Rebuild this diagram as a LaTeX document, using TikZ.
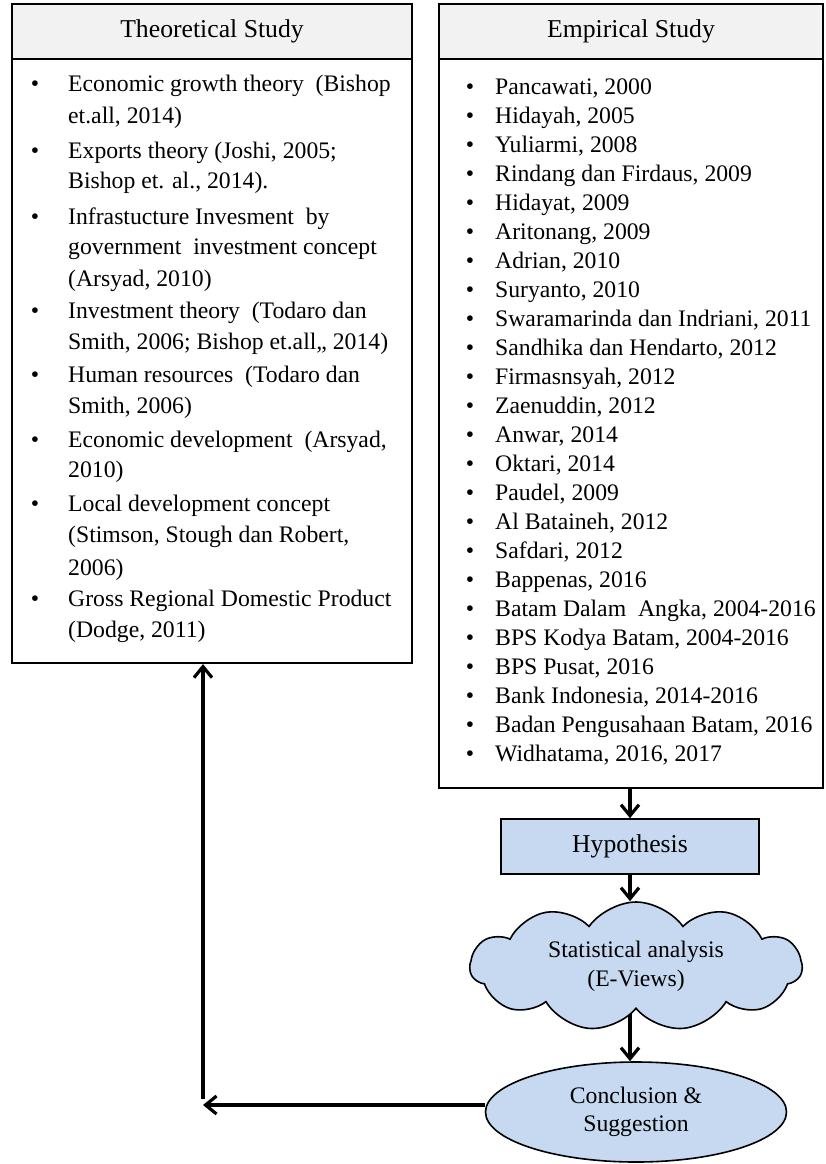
\documentclass[tikz,border=0pt]{standalone}
\usepackage{fontspec}
\setmainfont{Liberation Serif}
\usetikzlibrary{arrows.meta,shapes.geometric,shapes.symbols,backgrounds}

\definecolor{headgray}{HTML}{F2F2F2}
\definecolor{boxblue}{HTML}{C6D9F1}

\tikzset{
  txt/.style={inner sep=0pt, font=\fontsize{23.7}{28.5}\selectfont},
  head/.style={draw, line width=2.2pt, fill=headgray, font=\fontsize{25.7}{30}\selectfont},
  frame/.style={draw, line width=2.2pt},
  flow/.style={draw, fill=boxblue, line width=1.6pt, align=center},
  arr/.style={line width=3.2pt, -{Straight Barb[length=11pt,width=18pt]}},
}

\begin{document}
\begin{tikzpicture}[x=1pt,y=-1pt]
  \useasboundingbox (0,0) rectangle (825,1164);

  % the two study boxes
  \node[head, minimum width=400pt, minimum height=55pt] (theohead) at (212,31.5) {Theoretical Study};
  \node[frame, minimum width=400pt, minimum height=604pt] (theo) at (212,361) {};
  \node[head, minimum width=384pt, minimum height=55pt] (emphead) at (631,31.5) {Empirical Study};
  \node[frame, minimum width=384pt, minimum height=729pt] (emp) at (631,423.5) {};

  % theoretical list
  \foreach \y [count=\i] in {92,158,224,318,382,447,511,606}
    \node[txt, anchor=base] (tb\i) at (35,\y) {\textbullet};
  \foreach \y/\t [count=\i] in {
      92/{Economic growth theory\ \ (Bishop}, 123/{et.all, 2014)},
      158/{Exports theory (Joshi, 2005;}, 188/{Bishop et. al., 2014).},
      224/{Infrastucture Invesment\ \ by}, 254/{government\ \ investment concept},
      286/{(Arsyad, 2010)},
      318/{Investment theory\ \ (Todaro dan}, 349/{Smith, 2006; Bishop et.all,, 2014)},
      382/{Human resources\ \ (Todaro dan}, 413/{Smith, 2006)},
      447/{Economic development\ \ (Arsyad,}, 477/{2010)},
      511/{Local development concept}, 542/{(Stimson, Stough dan Robert,}, 575/{2006)},
      606/{Gross Regional Domestic Product}, 637/{(Dodge, 2011)}}
    \node[txt, anchor=base west] (tl\i) at (68,\y) {\t};

  % empirical list
  \foreach \n [count=\i] in {{Pancawati, 2000}, {Hidayah, 2005}, {Yuliarmi, 2008},
      {Rindang dan Firdaus, 2009}, {Hidayat, 2009}, {Aritonang, 2009}, {Adrian, 2010},
      {Suryanto, 2010}, {Swaramarinda dan Indriani, 2011}, {Sandhika dan Hendarto, 2012},
      {Firmasnsyah, 2012}, {Zaenuddin, 2012}, {Anwar, 2014}, {Oktari, 2014},
      {Paudel, 2009}, {Al Bataineh, 2012}, {Safdari, 2012}, {Bappenas, 2016},
      {Batam Dalam\ \ Angka, 2004-2016}, {BPS Kodya Batam, 2004-2016}, {BPS Pusat, 2016},
      {Bank Indonesia, 2014-2016}, {Badan Pengusahaan Batam, 2016}, {Widhatama, 2016, 2017}}
  {
    \node[txt, anchor=base] (eb\i) at (470,{94+29*(\i-1)}) {\textbullet};
    \node[txt, anchor=base west] (el\i) at (495,{94+29*(\i-1)}) {\n};
  }

  % flow
  \node[flow, rectangle, minimum width=258pt, minimum height=55pt,
        font=\fontsize{25.7}{30}\selectfont] (hyp) at (630,846.5) {Hypothesis};
  \node[flow, txt, cloud, cloud puffs=11, cloud puff arc=110, cloud ignores aspect,
        minimum width=332pt, minimum height=129pt] (stat) at (636,966.5)
        {Statistical analysis\\(E-Views)};
  \node[flow, txt, ellipse, minimum width=301pt, minimum height=100pt] (concl) at (636,1112)
        {Conclusion \&\\Suggestion};
  \coordinate (corner) at (203,1105);

  \draw[arr] (emp.south -| hyp) -- (hyp.north);
  \draw[arr] (hyp.south) -- (hyp.south |- stat.north);
  \begin{scope}[on background layer]
    \draw[arr] (stat.center -| hyp) -- (hyp |- concl.north);
  \end{scope}
  \draw[arr] (concl.west |- corner) -- (corner);
  \draw[arr] ([yshift=6pt]corner) -- (corner |- theo.south);
\end{tikzpicture}
\end{document}
